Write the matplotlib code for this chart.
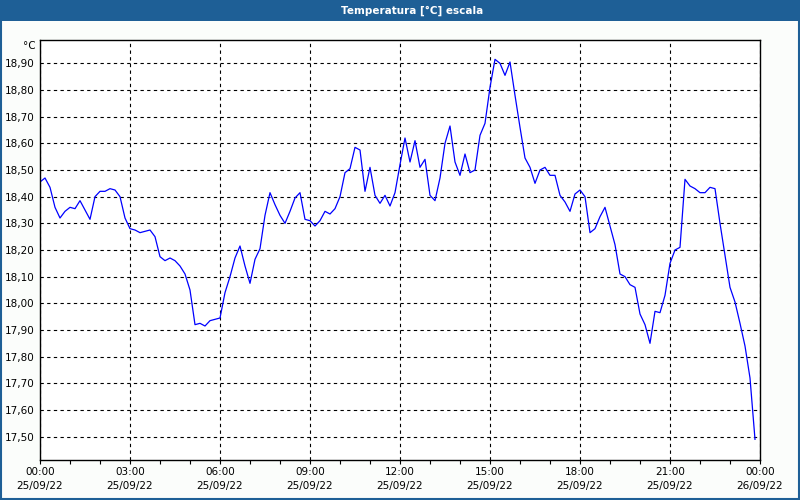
import matplotlib
matplotlib.use("Agg")
import matplotlib.pyplot as plt
import matplotlib.dates as mdates
from matplotlib.patches import Rectangle
from matplotlib.ticker import MultipleLocator, FuncFormatter
import pandas as pd

# Temperature readings, one every 10 minutes from 25/09/22 00:00
start_time = "2022-09-25 00:00"
step = "10min"
temperature = [
    18.455, 18.47, 18.435, 18.36, 18.32, 18.345, 18.36, 18.355, 18.385, 18.35,
    18.315, 18.40, 18.42, 18.42, 18.43, 18.425, 18.40, 18.32, 18.28, 18.275,
    18.265, 18.27, 18.275, 18.25, 18.175, 18.16, 18.17, 18.16, 18.14, 18.11,
    18.05, 17.92, 17.925, 17.915, 17.935, 17.94, 17.945, 18.04, 18.10, 18.17,
    18.215, 18.14, 18.075, 18.165, 18.205, 18.33, 18.415, 18.37, 18.33, 18.30,
    18.345, 18.395, 18.415, 18.315, 18.31, 18.29, 18.31, 18.345, 18.335, 18.355,
    18.40, 18.49, 18.505, 18.585, 18.575, 18.42, 18.51, 18.405, 18.375, 18.405,
    18.365, 18.415, 18.52, 18.62, 18.53, 18.61, 18.51, 18.54, 18.405, 18.385,
    18.47, 18.60, 18.665, 18.53, 18.48, 18.56, 18.49, 18.50, 18.63, 18.675,
    18.81, 18.915, 18.90, 18.855, 18.905, 18.78, 18.66, 18.545, 18.51, 18.45,
    18.50, 18.51, 18.48, 18.48, 18.405, 18.38, 18.345, 18.41, 18.425, 18.40,
    18.265, 18.28, 18.325, 18.36, 18.29, 18.22, 18.11, 18.10, 18.07, 18.06,
    17.96, 17.92, 17.85, 17.97, 17.965, 18.03, 18.15, 18.20, 18.21, 18.465,
    18.44, 18.43, 18.415, 18.415, 18.435, 18.43, 18.30, 18.18, 18.06, 18.005,
    17.925, 17.84, 17.72, 17.49,
]
times = pd.date_range(start_time, periods=len(temperature), freq=step)

title = "Temperatura [°C] escala"
unit = "°C"
bar_color = "#1e5f96"
bg_color = "#fbfdfb"

fig = plt.figure(figsize=(8, 5), dpi=100, facecolor=bg_color)

# title bar and window border
fig.patches.append(Rectangle((0, 1 - 21 / 500), 1, 21 / 500, transform=fig.transFigure,
                             facecolor=bar_color, edgecolor="none", zorder=0))
fig.patches.append(Rectangle((0.001, 0.002), 0.998, 0.99, transform=fig.transFigure,
                             facecolor="none", edgecolor=bar_color, linewidth=1.5, zorder=1))
fig.text(412 / 800, 1 - 10.5 / 500, title, color="white", fontsize=7.5, fontweight="bold",
         ha="center", va="center")

ax = fig.add_axes([40 / 800, 40 / 500, 720 / 800, 420 / 500])
ax.set_facecolor("white")
ax.plot(times, temperature, color="#0000ff", linewidth=0.9)

ax.set_xlim(pd.Timestamp("2022-09-25 00:00"), pd.Timestamp("2022-09-26 00:00"))
ax.set_ylim(17.4125, 18.9875)

ax.xaxis.set_major_locator(mdates.HourLocator(interval=3))
ax.xaxis.set_minor_locator(mdates.HourLocator(interval=1))
ax.xaxis.set_major_formatter(mdates.DateFormatter("%H:%M\n%d/%m/%y"))
ax.yaxis.set_major_locator(MultipleLocator(0.1))
ax.yaxis.set_major_formatter(FuncFormatter(lambda v, p: f"{v:.2f}".replace(".", ",")))

ax.tick_params(axis="x", which="both", direction="out", length=3, width=0.8,
               pad=2, labelsize=7.5)
ax.tick_params(axis="y", length=0, pad=4, labelsize=7.5)
for lbl in ax.get_xticklabels():
    lbl.set_linespacing(1.5)

ax.grid(True, which="major", color="black", linestyle=(0, (3, 3)), linewidth=0.8)
for s in ax.spines.values():
    s.set_linewidth(1.0)
    s.set_color("black")

fig.text(36 / 800, 1 - 46 / 500, unit, fontsize=7.5, ha="right", va="center")

fig.savefig("out.png", dpi=100, facecolor=bg_color)
